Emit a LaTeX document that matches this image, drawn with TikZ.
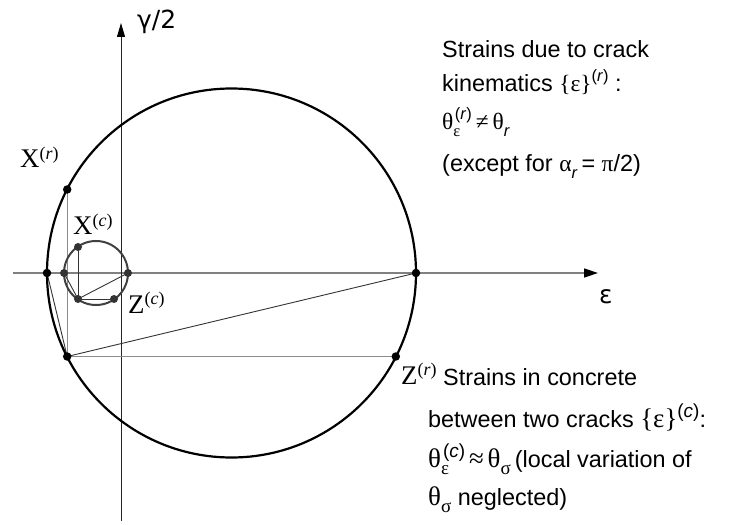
\documentclass[tikz,border=0pt]{standalone}
\usepackage{fontspec}
\setmainfont{Liberation Sans}
\newfontfamily\serif{Liberation Serif}
\newfontfamily\dvs{DejaVu Sans}
\usetikzlibrary{arrows.meta}
% top block: normal greek, small scripts
\newcommand\tsup[1]{\raisebox{0.45em}{\fontsize{16.5}{16.5}\selectfont #1}}
\newcommand\tsub[1]{\raisebox{-0.28em}{\fontsize{16.5}{16.5}\selectfont #1}}
\newcommand\subsup[2]{\rlap{\tsub{#1}}\kern1.5bp\tsup{#2}}
% bottom block: larger greek and scripts
\newcommand\gk[1]{{\serif\fontsize{27}{30}\selectfont #1}}
\newcommand\bsup[1]{\raisebox{0.42em}{\fontsize{19}{19}\selectfont #1}}
\newcommand\bsub[1]{\raisebox{-0.3em}{\fontsize{19}{19}\selectfont #1}}
\newcommand\bsubsup[2]{\rlap{\bsub{#1}}\kern2bp\bsup{#2}}
\newcommand\lab[2]{{\serif\fontsize{27}{30}\selectfont #1\raisebox{0.3em}{\fontsize{18}{18}\selectfont(\textit{#2})}}}
\tikzset{
  bigc/.style={line width=2.2bp, black},
  smallc/.style={line width=2bp, black!75},
  thinl/.style={line width=0.9bp, black!80},
  guide/.style={line width=1.4bp, black!45},
  axis/.style={line width=1.4bp, black!50, -{Triangle[length=14bp,width=9bp,black]}},
  vaxis/.style={line width=1bp, black!85, -{Triangle[length=14bp,width=8bp,black]}},
  dotb/.style={circle, fill=black, inner sep=0, minimum size=8.5bp},
  dots/.style={circle, fill=black!80, inner sep=0, minimum size=8bp},
  txt/.style={inner sep=0, anchor=base west, font=\fontsize{23.5}{28}\selectfont},
}
\begin{document}
\begin{tikzpicture}[x=1bp,y=-1bp]
\useasboundingbox (0,0) rectangle (733,525);
% axes
\coordinate (h0) at (13,273);
\coordinate (h1) at (598,273);
\coordinate (v0) at (121,521);
\coordinate (v1) at (121,23);
\draw[axis] (h0) -- (h1);
\draw[vaxis] (v0) -- (v1);
% big circle points
\coordinate (Cb) at (231.5,273);
\coordinate (pXr) at (67.2,189.5);
\coordinate (pZr) at (395.8,356.5);
\coordinate (pPr) at (67.2,356.5);
\coordinate (pLr) at (47,273);
\coordinate (pRr) at (416,273);
% small circle points
\coordinate (Cs) at (96,273);
\coordinate (pXc) at (78,247);
\coordinate (pZc) at (114,299);
\coordinate (pPc) at (78,299);
\coordinate (pLc) at (64,273);
\coordinate (pRc) at (128,273);
% guide lines
\draw[guide] (pXr) -- (pPr) -- (pZr);
\draw[thinl] (pLr) -- (pPr) -- (pRr);
\draw[thinl] (pXc) -- (pPc) -- (pZc);
\draw[thinl] (pLc) -- (pPc) -- (pRc);
% circles
\draw[bigc] (Cb) circle (184.5bp);
\draw[smallc] (Cs) circle (32bp);
% dots
\foreach \p in {pXr,pZr,pPr,pLr,pRr} \node[dotb] (d\p) at (\p) {};
\foreach \p in {pXc,pZc,pPc,pLc,pRc} \node[dots] (d\p) at (\p) {};
% labels
\node[txt] (lXr) at (20,168) {\lab{X}{r}};
\node[txt] (lXc) at (73,235) {\lab{X}{c}};
\node[txt] (lZc) at (128,313) {\lab{Z}{c}};
\node[txt] (lZr) at (401,384) {\lab{Z}{r}};
\node[txt] (lg) at (137,29) {\dvs\fontsize{25}{30}\selectfont γ/2};
\node[txt] (le) at (599,303) {\dvs\fontsize{25}{30}\selectfont ε};
% top text
\node[txt] (t1) at (442,58) {Strains due to crack};
\node[txt] (t2) at (442,92) {kinematics {\serif\{ε\}}\tsup{(\textit{r})} :};
\node[txt] (t3) at (442,130) {{\serif θ}\subsup{\serif ε}{(\textit{r})}\,{\serif ≠}\,{\serif θ}\tsub{\textit{r}}};
\node[txt] (t4) at (442,172) {(except for {\serif α}\tsub{\textit{r}}\,= {\serif π}/2)};
% bottom text
\node[txt] (b1) at (443,385) {Strains in concrete};
\node[txt] (b2) at (428,427) {between two cracks \gk{\{ε\}}\bsup{(\textit{c})}:};
\node[txt] (b3) at (428,467) {\gk{θ}\bsubsup{\gk{\fontsize{19}{19}\selectfont ε}}{(\textit{c})}\,\gk{≈}\,\gk{θ}\bsub{\serif σ}\kern4bp(local variation of};
\node[txt] (b4) at (428,505) {\gk{θ}\bsub{\serif σ} neglected)};
\end{tikzpicture}
\end{document}
